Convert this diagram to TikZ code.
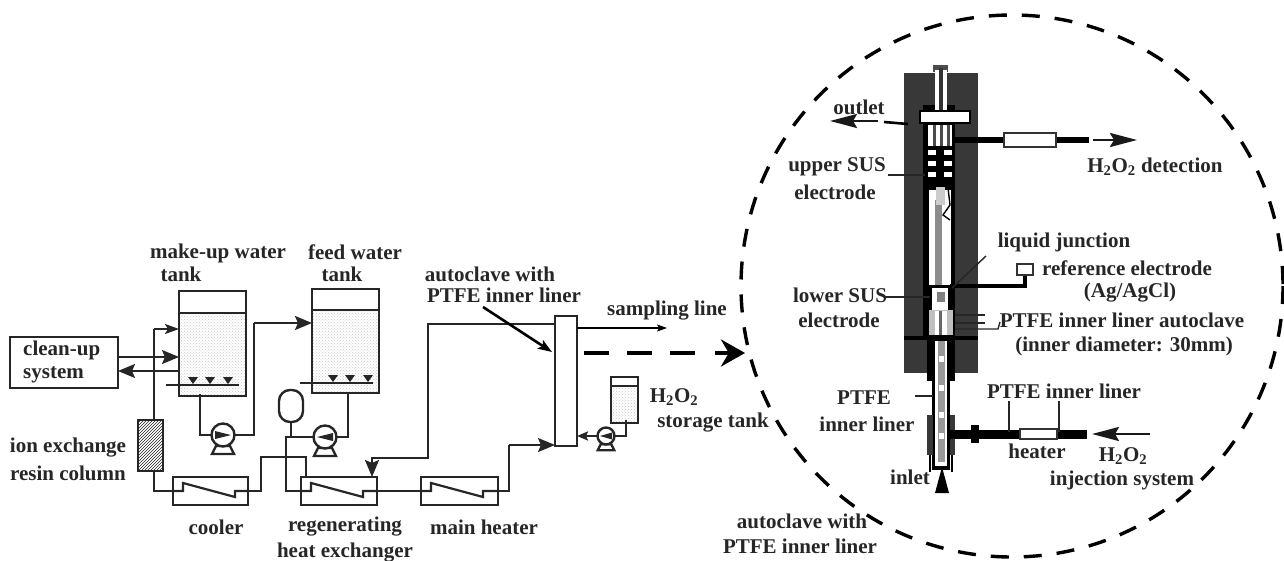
\documentclass[tikz,border=0pt]{standalone}
\usepackage{fontspec}
\setmainfont{Liberation Serif}
\usetikzlibrary{arrows.meta,patterns}

\begin{document}
\begin{tikzpicture}[x=1pt, y=-1pt, >=Stealth, font=\fontsize{21}{23}\selectfont\bfseries]

% styles
\tikzset{
  pipe/.style={line width=2.2pt, draw=black!85},
  flow/.style={pipe, -{Stealth[length=17pt,width=14pt,inset=3pt]}},
  sideflow/.style={line width=2.6pt, draw=black!90, -{Stealth[length=27pt,width=14pt,inset=4pt]}},
  bigflow/.style={line width=4pt, -{Stealth[length=24pt,width=27pt]}},
  unit/.style={draw=black!85, line width=2.4pt, inner sep=0pt, outer sep=0pt},
  tank/.style={unit, pattern=crosshatch dots, pattern color=black!22},
  pumpbody/.style={unit, circle, fill=white, minimum size=23pt},
  leader/.style={line width=1.4pt, draw=black!85},
  heavy/.style={line width=6pt, draw=black},
  wall/.style={fill=black!78},
  lbl/.style={inner sep=0pt, align=center, text=black!85},
  pumpbase/.pic={
    \draw[unit, fill=white] (-7,11) -- (-11,19) -- (11,19) -- (7,11) -- cycle;
  },
}
\useasboundingbox (0,0) rectangle (1284,561);

% clean-up system
\node[unit, minimum width=108pt, minimum height=51pt] (cleanup) at (64,362.5) {};
\node[lbl, anchor=west] (cleanuplbl) at (23,350) {clean-up};
\node[lbl, anchor=west] (systemlbl) at (23,375) {system};

% water tanks
\node[tank, minimum width=67pt, minimum height=105pt] (makeup) at (212.5,343.5) {};
\node[tank, minimum width=67pt, minimum height=104pt] (feed) at (345.5,341) {};
\node[unit, fill=white, minimum width=67pt, minimum height=22pt] (makeuptop) at (212.5,302) {};
\node[unit, fill=white, minimum width=67pt, minimum height=21pt] (feedtop) at (345.5,299.5) {};
\node[lbl] (makeuplbl) at (218,253) {make-up water};
\node[lbl] (maketanklbl) at (181,274) {tank};
\node[lbl] (feedlbl) at (355,252) {feed water};
\node[lbl] (feedtanklbl) at (342,274) {tank};

% spargers
\draw[pipe] (166,385) -- (239,385);
\draw[pipe] (300,383) -- (373,383);
\foreach \sx in {193,210,228} {
  \fill[black!85] (\sx-5,377) -- (\sx+5,377) -- (\sx,384) -- cycle;
  \fill[black!85] (\sx+135,375) -- (\sx+145,375) -- (\sx+140,382) -- cycle;
}

% ion exchange column
\node[unit, fill=white, pattern=north east lines, pattern color=black!85, minimum width=25pt, minimum height=51pt] (column) at (150.5,445.5) {};
\node[lbl] (ionlbl) at (68,448) {ion exchange};
\node[lbl] (resinlbl) at (68,473) {resin column};

% heat exchangers
\node[unit, minimum width=75pt, minimum height=28pt] (cooler) at (210.5,491) {};
\node[unit, minimum width=76pt, minimum height=28pt] (regen) at (339,491) {};
\node[unit, minimum width=77pt, minimum height=28pt] (mainheater) at (459.5,491) {};
\foreach \ex in {cooler,regen,mainheater} {
  \draw[pipe] (\ex.west) -- ++(10,0) -- ++(0,-8) -- ++(52,14) -- ++(0,-6) -- (\ex.east);
}
\node[lbl] (coolerlbl) at (216,527) {cooler};
\node[lbl] (regenlbl) at (345,527) {regenerating};
\node[lbl] (hxlbl) at (345,553) {heat exchanger};
\node[lbl] (mainlbl) at (484,527) {main heater};

% pumps
\pic at (223,435) {pumpbase};
\pic at (325,437) {pumpbase};
\pic[scale=.75] at (606,436) {pumpbase};
\node[pumpbody] (pumpa) at (223,435) {};
\node[pumpbody] (pumpb) at (325,437) {};
\node[pumpbody, minimum size=17pt] (pumpc) at (606,436) {};
\fill[black!85] (215,431) -- (231,435) -- (215,439) -- cycle;
\fill[black!85] (333,433) -- (317,437) -- (333,441) -- cycle;
\fill[black!85] (612,432.5) -- (600,436) -- (612,439.5) -- cycle;

% expansion vessel
\node[unit, fill=white, rounded corners=11pt, minimum width=24pt, minimum height=32pt] (vessel) at (291,406) {};

% autoclave on the loop
\node[unit, fill=white, minimum width=22pt, minimum height=130pt] (autoclave) at (566,381) {};
\node[lbl] (autolbl) at (490,274) {autoclave with};
\node[lbl] (linerlbl) at (504,295) {PTFE inner liner};
\node[lbl] (samplbl) at (667,311) {sampling line};

% H2O2 tank
\node[tank, minimum width=27pt, minimum height=46pt] (htank) at (624.5,400) {};
\node[unit, fill=white, minimum width=27pt, minimum height=9pt] (htanktop) at (624.5,381.5) {};
\node[lbl] (hlbl) at (674,397) {H\textsubscript{2}O\textsubscript{2}};
\node[lbl] (storelbl) at (713,423) {storage tank};

% loop piping
\coordinate (sampleend) at (667,328);
\coordinate (dashstart) at (584,353);
\coordinate (dashend) at (745,353);
\coordinate (noteend) at (552,352);
\coordinate (notestart) at (483,307);
\draw[flow] (cleanup.east |- 0,357) -- (makeup.west |- 0,357);
\draw[flow] (makeup.west |- 0,371) -- (cleanup.east |- 0,371);
\draw[pipe] (column.north -| 154,0) -- (154,329);
\draw[flow, -{Stealth[length=14pt,width=10pt,inset=3pt]}] (154,329) -- (makeup.west |- 0,329);
\draw[pipe] (200,394) |- (pumpa.west);
\draw[pipe] (pumpa.east) -| (254,323);
\draw[flow] (254,323) -- (feed.west |- 0,323);
\draw[pipe] (154,471) |- (cooler.west);
\draw[pipe] (cooler.east) -- (261,491) -- (261,457) -- (306,457) -- (306,477);
\draw[pipe] (348,392) |- (pumpb.east);
\draw[pipe] (pumpb.west) -- (286,437) |- (regen.west);
\draw[pipe] (vessel.south) -- (291,437);
\draw[flow] (autoclave.west |- 0,324) -- (428,324) |- (372,458) -- (regen.north -| 372,0);
\draw[pipe] (regen.east) -- (mainheater.west);
\draw[pipe] (mainheater.east) -- (509,491) -- (509,445);
\draw[flow] (509,445) -- (autoclave.west |- 0,445);
\draw[line width=2.6pt, -{Stealth[length=14pt,width=10pt,inset=3pt]}] (notestart) -- (noteend);
\draw[line width=1.4pt, -{Stealth[length=10pt,width=7pt,inset=2pt]}] (autoclave.east |- sampleend) -- (sampleend);
\draw[pipe] (626,420) |- (pumpc.east);
\draw[pipe, -{Stealth[length=11pt,width=9pt,inset=2pt]}] (pumpc.west) -- (autoclave.east |- pumpc);
\draw[line width=4pt, dash pattern=on 25pt off 18pt] (dashstart) -- (700,353);
\draw[bigflow] (715,353) -- (dashend);

% dashed circle
\draw[line width=3.4pt, dash pattern=on 18pt off 15pt] (1012,286) circle (271);

% autoclave section, upper body
\fill[wall] (904,73) rectangle (978,105);
\fill[wall] (904,105) rectangle (978,338);
\fill[black] (923,105) rectangle (955,338);
\fill[wall] (904,340) rectangle (978,373);
\fill[black] (904,336) rectangle (978,340);
\fill[black] (927,340) rectangle (955,381);
% stem and top plate
\fill[black!70] (933,65) rectangle (948,72);
\fill[white] (935,70) rectangle (939,110);
\fill[white] (943,70) rectangle (947,110);
\fill[black!80] (939,68) rectangle (943,110);
\node[draw=black, line width=1.5pt, fill=white, minimum width=50pt, minimum height=12pt, inner sep=0pt] (plate) at (945,117) {};
% inner stripes
\fill[white] (928,125) rectangle (952,146);
\foreach \ix in {934,941,948} {\fill[black!70] (\ix-1.5,125) rectangle (\ix+1.5,146);}
\foreach \iy in {153,164,175} {
  \foreach \ix in {932,948} {\fill[white] (\ix-4,\iy-2.5) rectangle (\ix+4,\iy+2.5);}
}
% electrode rod
\fill[white] (929,190) rectangle (951,285);
\fill[black!45] (935,200) rectangle (942,285);
\fill[black!20] (936,187) rectangle (945,205);
\draw[line width=1.4pt] (948,188) -- (950,205) -- (943,215) -- (950,220);
% lower part of the inner bore
\fill[white] (932,288) rectangle (948,310);
\fill[black!50] (937,292) rectangle (945,302);
\fill[black!25] (929,310) rectangle (953,335);
\fill[white] (935,311) rectangle (947,335);
\fill[black!60] (939,311) rectangle (942,335);
% lower tube
\fill[black] (932,373) rectangle (950,470);
\fill[white] (935,341) rectangle (947,466);
\fill[black!40] (938,341) rectangle (945,462);
\foreach \ty in {356,385,412,433} {\fill[white] (939,\ty) rectangle (944,\ty+6);}
\fill[wall] (927,415) rectangle (933,455);
\fill[wall] (950,415) rectangle (955,455);
\draw[line width=1.4pt] (930,455) -- (930,472);
\draw[line width=1.4pt] (952,455) -- (952,472);

% side lines of the section
\node[draw=black!80, line width=1.8pt, fill=white, minimum width=52pt, minimum height=14pt, inner sep=0pt] (detbox) at (1030,140) {};
\node[draw=black!80, line width=1.2pt, fill=white, minimum width=37pt, minimum height=10pt, inner sep=0pt] (heaterbox) at (1038.5,434) {};
\node[draw=black!80, line width=1.8pt, fill=white, minimum width=16pt, minimum height=11pt, inner sep=0pt] (refbox) at (1025,269.5) {};
\coordinate (detout) at (1089,140);
\coordinate (injin) at (1087,434);
\draw[heavy] (955,140) -- (detbox.west);
\draw[heavy] (detbox.east) -- (detout);
\draw[heavy, line width=9pt] (950,434) -- (heaterbox.west);
\draw[heavy, line width=9pt] (heaterbox.east) -- (injin);
\fill[black] (971,425) rectangle (979,443);
\draw[line width=4pt] (refbox.south) -- (1025,286) -- (950,286);
\draw[sideflow] (1093,140) -- (1137,140);
\draw[sideflow] (1150,434) -- (1092,434);
\draw[sideflow] (878,121) -- (830,121);
\draw[line width=2.6pt] (884,122) -- (908,124);
\fill[black] (942,467) -- (949,493) -- (935,493) -- cycle;

% leaders
\draw[leader] (888,175) -- (925,175);
\draw[leader] (885,297) -- (930,297);
\draw[leader] (986,256) -- (952,288);
\draw[leader] (955,315) -- (985,315);
\draw[leader] (955,323) -- (985,323);
\draw[leader] (955,329) -- (998,329) -- (1000,322);
\draw[leader] (915,396) -- (933,396);
\draw[leader] (1009,401) -- (1009,432);
\draw[leader] (1059,401) -- (1059,432);

% section labels
\node[lbl] (outletlbl) at (859,107) {outlet};
\node[lbl] (uplbl) at (837,167) {upper SUS};
\node[lbl] (upellbl) at (835,192) {electrode};
\node[lbl] (detlbl) at (1155,167) {H\textsubscript{2}O\textsubscript{2} detection};
\node[lbl] (junclbl) at (1064,242) {liquid junction};
\node[lbl] (reflbl) at (1127,268) {reference electrode};
\node[lbl] (aglbl) at (1130,293) {(Ag/AgCl)};
\node[lbl] (lowlbl) at (840,295) {lower SUS};
\node[lbl] (lowellbl) at (839,320) {electrode};
\node[lbl] (ptfelbl) at (1122,320) {PTFE inner liner autoclave};
\node[lbl] (diamlbl) at (1124,346) {(inner diameter: 30mm)};
\node[lbl] (ptfeleft) at (864,398) {PTFE};
\node[lbl] (linerleft) at (867,424) {inner liner};
\node[lbl] (ptferight) at (1064,391) {PTFE inner liner};
\node[lbl] (heaterlbl) at (1037,451) {heater};
\node[lbl] (injhlbl) at (1123,456) {H\textsubscript{2}O\textsubscript{2}};
\node[lbl] (injlbl) at (1122,480) {injection system};
\node[lbl] (inletlbl) at (910,477) {inlet};
\node[lbl] (autosec) at (802,521) {autoclave with};
\node[lbl] (linersec) at (800,546) {PTFE inner liner};

\end{tikzpicture}
\end{document}
